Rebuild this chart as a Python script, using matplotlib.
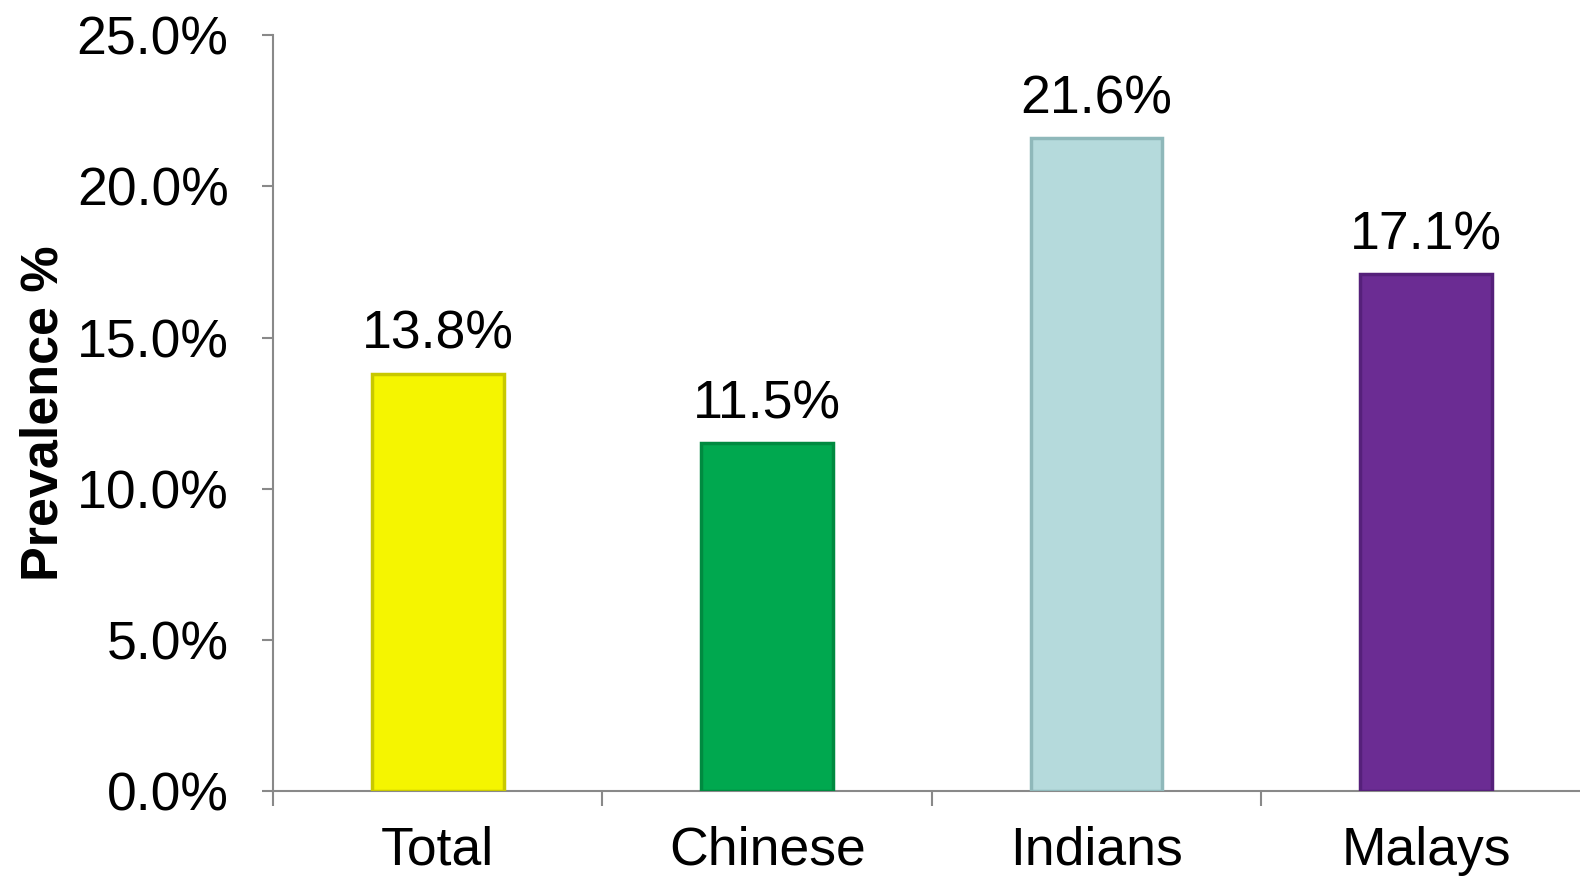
import matplotlib.pyplot as plt
from matplotlib.ticker import FixedLocator, PercentFormatter

plt.rcParams['font.family'] = ['Liberation Sans', 'DejaVu Sans']

categorias = ["Total", "Chinese", "Indians", "Malays"]
prevalencia = [13.8, 11.5, 21.6, 17.1]
cores = ["#F5F500", "#00A84F", "#B5DADC", "#6B2C93"]
bordas = ["#C8C800", "#008A40", "#8FB8BA", "#55207A"]
rotulos = ["13.8%", "11.5%", "21.6%", "17.1%"]

fig = plt.figure(figsize=(15.8, 8.8), dpi=100)
# o eixo continua além da borda direita, como no original
ax = fig.add_axes([0.1728, 0.101, 0.834, 0.859])

x = list(range(len(categorias)))
barras = ax.bar(x, prevalencia, width=0.4, color=cores, edgecolor=bordas, linewidth=2.5, zorder=3)

# rótulos de valor acima das barras
for b, txt in zip(barras, rotulos):
    ax.annotate(txt, (b.get_x() + b.get_width() / 2, b.get_height()),
                xytext=(0, 10), textcoords="offset points",
                ha="center", va="bottom", fontsize=38.5)

ax.set_xlim(-0.5, len(categorias) - 0.5)
ax.set_ylim(0, 25)
ax.yaxis.set_major_locator(FixedLocator([0, 5, 10, 15, 20, 25]))
ax.yaxis.set_major_formatter(PercentFormatter(decimals=1))

# ticks nas fronteiras das categorias, rótulos no centro
ax.set_xticks([i - 0.5 for i in range(len(categorias) + 1)])
ax.set_xticklabels([])
ax.set_xticks(x, minor=True)
ax.set_xticklabels(categorias, minor=True)
ax.tick_params(axis="x", which="major", length=11, width=1.5, color="#898989", direction="out")
ax.tick_params(axis="x", which="minor", length=0, pad=25, labelsize=38.5)
ax.tick_params(axis="y", length=8, width=1.5, color="#898989", pad=24, labelsize=38.5)

for lado in ["top", "right"]:
    ax.spines[lado].set_visible(False)
for lado in ["left", "bottom"]:
    ax.spines[lado].set_color("#898989")
    ax.spines[lado].set_linewidth(1.5)

ax.set_ylabel("Prevalence %", fontsize=37.5, fontweight="bold")
ax.yaxis.set_label_coords(-0.1555, 0.5)

fig.savefig("out.png", dpi=100)
